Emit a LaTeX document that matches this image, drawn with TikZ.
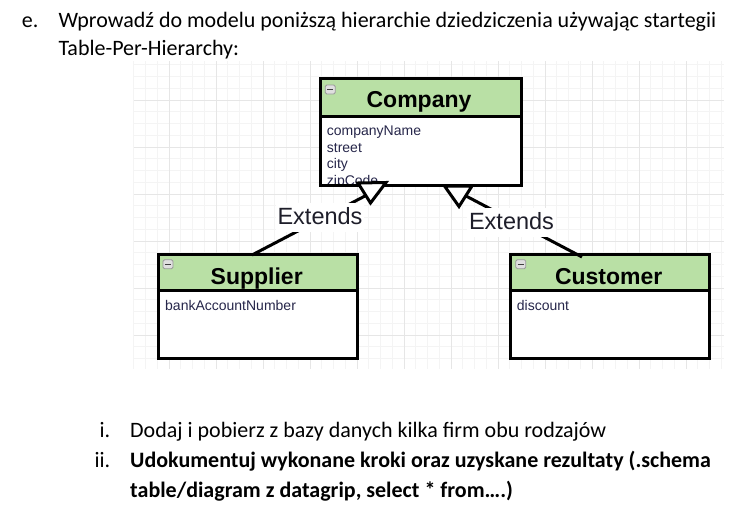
\documentclass[tikz,border=0pt]{standalone}
\usepackage{fontspec}
\setmainfont{Carlito}
\newfontfamily\arialf{Liberation Sans}
\definecolor{hdrgreen}{HTML}{B9E0A5}
\definecolor{gridmin}{HTML}{F4F4F4}
\definecolor{gridmaj}{HTML}{E6E6E6}
\definecolor{attrcol}{HTML}{26264A}
\definecolor{lblcol}{HTML}{1E1E2A}
\tikzset{
  gridminor/.style={draw=gridmin, line width=0.8pt},
  gridmajor/.style={draw=gridmaj, line width=1pt},
  classbox/.style={fill=white, rectangle, inner sep=0pt, outer sep=0pt, anchor=north west},
  boxline/.style={draw=black, line width=3pt},
  hdr/.style={fill=hdrgreen},
  title/.style={font=\arialf\bfseries\fontsize{23}{27}\selectfont, inner sep=0pt, anchor=base},
  attr/.style={font=\arialf\fontsize{14}{16}\selectfont, text=attrcol, inner sep=0pt, anchor=base west},
  icon/.style={draw=gray!80, fill=gray!25, rounded corners=1.5pt, line width=0.8pt, minimum width=10pt, minimum height=9pt, inner sep=0pt},
  iconbar/.style={draw=black!75, line width=1.3pt},
  conn/.style={draw=black, line width=3pt},
  tri/.style={draw=black, fill=white, line width=3pt, line join=miter},
  lbl/.style={font=\arialf\fontsize{23.5}{27}\selectfont, text=lblcol, fill=white, inner xsep=2pt, inner ysep=1.5pt, text height=20pt, text depth=6pt, anchor=base},
  doc/.style={font=\fontsize{22}{26}\selectfont, inner sep=0pt, anchor=base west},
  docb/.style={doc, font=\bfseries\fontsize{22}{26}\selectfont},
  num/.style={font=\fontsize{22}{26}\selectfont, inner sep=0pt, anchor=base east}
}
\begin{document}
\begin{tikzpicture}[x=1pt,y=-1pt]
\useasboundingbox (0,0) rectangle (742,514);
\fill[white] (0,0) rectangle (742,514);
% grid
\foreach \k in {0,...,50} \draw[gridminor] ({133.75+11.75*\k},61) -- ({133.75+11.75*\k},369);
\foreach \k in {0,...,25} \draw[gridminor] (134,{64.75+11.75*\k}) -- (724,{64.75+11.75*\k});
\foreach \k in {0,...,11} \draw[gridmajor] ({169+47*\k},61) -- ({169+47*\k},369);
\foreach \k in {0,...,5} \draw[gridmajor] (134,{100+47*\k}) -- (724,{100+47*\k});

% top text
\node[doc] (e) at (21.7,27.3) {e.};
\node[doc] (t1) at (58.3,27.3) {Wprowadź do modelu poniższą hierarchie dziedziczenia używając startegii};
\node[doc] (t2) at (58.3,55) {Table-Per-Hierarchy:};

% Company
\node[classbox, minimum width=201pt, minimum height=107pt] (company) at (320,78) {};
\fill[hdr] (company.north west) rectangle (521,116);
\draw[boxline] (320,116) -- (521,116);
\begin{scope}
\clip (321.5,117.5) rectangle (519.5,184);
\node[attr] (ca1) at (326.7,135.5) {companyName};
\node[attr] (ca2) at (326.7,152) {street};
\node[attr] (ca3) at (326.7,168.5) {city};
\node[attr] (ca4) at (326.7,185) {zipCode};
\end{scope}
\draw[boxline] (company.north west) rectangle (company.south east);
\node[title] (ctitle) at (419,107.3) {Company};
\node[icon] (cicon) at (330.3,89.5) {};
\draw[iconbar] ([xshift=2.3pt]cicon.west) -- ([xshift=-2.3pt]cicon.east);

% Supplier
\node[classbox, minimum width=199pt, minimum height=104pt] (supplier) at (158,254.5) {};
\fill[hdr] (supplier.north west) rectangle (357,290);
\draw[boxline] (158,290) -- (357,290);
\draw[boxline] (supplier.north west) rectangle (supplier.south east);
\node[title] (stitle) at (256.7,284.3) {Supplier};
\node[attr] (sa1) at (165,310) {bankAccountNumber};
\node[icon] (sicon) at (168,264.2) {};
\draw[iconbar] ([xshift=2.3pt]sicon.west) -- ([xshift=-2.3pt]sicon.east);

% Customer
\node[classbox, minimum width=199pt, minimum height=104pt] (customer) at (510,254.5) {};
\fill[hdr] (customer.north west) rectangle (709,290);
\draw[boxline] (510,290) -- (709,290);
\draw[boxline] (customer.north west) rectangle (customer.south east);
\node[title] (cutitle) at (608.7,284.3) {Customer};
\node[attr] (cua1) at (516.7,310) {discount};
\node[icon] (cuicon) at (520.8,264.2) {};
\draw[iconbar] ([xshift=2.3pt]cuicon.west) -- ([xshift=-2.3pt]cuicon.east);

% inheritance connectors
\coordinate (supin) at (252,255);
\coordinate (lt) at (365,196);
\coordinate (cusin) at (582,257);
\coordinate (rt) at (466,196);
\draw[conn] (supin) -- (lt);
\draw[conn] (cusin) -- (rt);
\coordinate (lta) at (358,183);
\coordinate (ltb) at (386,182.5);
\coordinate (ltc) at (370.5,203);
\coordinate (rta) at (444.5,186);
\coordinate (rtb) at (472,186);
\coordinate (rtc) at (459,206.5);
\draw[tri] (lta) -- (ltb) -- (ltc) -- cycle;
\draw[tri] (rta) -- (rtb) -- (rtc) -- cycle;

% labels
\node[lbl] (lbl1) at (320,224.3) {Extends};
\node[lbl] (lbl2) at (511.5,229) {Extends};

% bottom text
\node[num] (n1) at (110.5,437.5) {i.};
\node[doc] (b1) at (130,437.5) {Dodaj i pobierz z bazy danych kilka firm obu rodzajów};
\node[num] (n2) at (110.5,467.5) {ii.};
\node[docb] (b2) at (130,467.5) {Udokumentuj wykonane kroki oraz uzyskane rezultaty (.schema};
\node[docb] (b3) at (130,497.5) {table/diagram z datagrip, select * from….)};
\end{tikzpicture}
\end{document}
